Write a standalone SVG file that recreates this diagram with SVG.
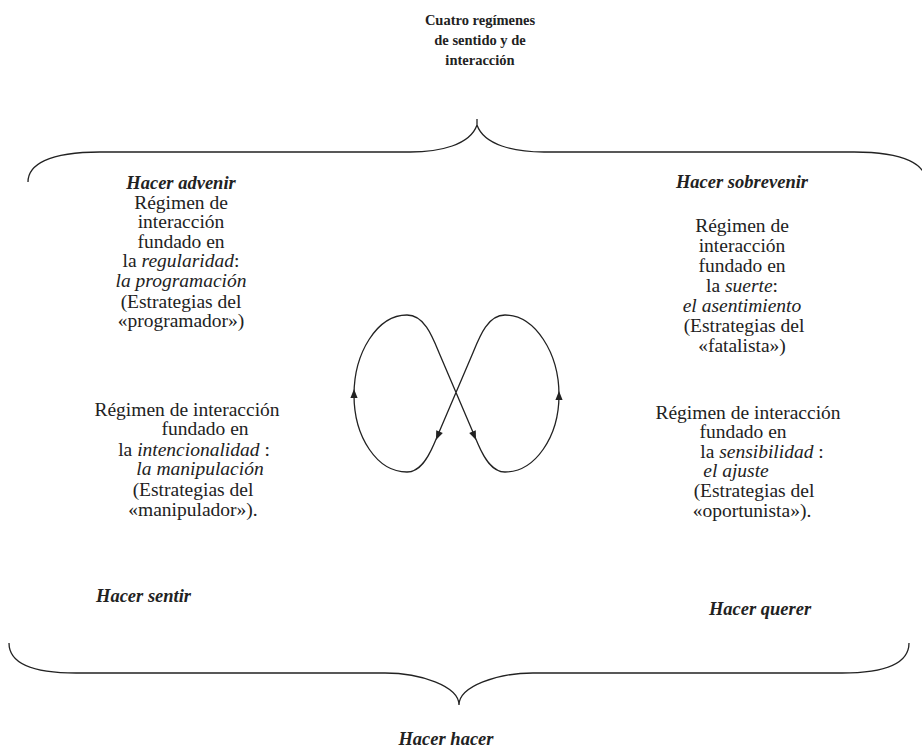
<svg xmlns="http://www.w3.org/2000/svg" width="922" height="748" viewBox="0 0 922 748">
<style>
.t{font-family:"Liberation Serif","Times New Roman",serif;font-size:19.5px;fill:#222;text-anchor:middle}
.bi{font-family:"Liberation Serif","Times New Roman",serif;font-size:18.5px;font-weight:bold;font-style:italic;fill:#222}
.ti{font-family:"Liberation Serif","Times New Roman",serif;font-size:14.5px;font-weight:bold;fill:#222;text-anchor:middle}
.i{font-style:italic}
.ln{fill:none;stroke:#222;stroke-width:1.3}
.ah{fill:#222}
</style>
<defs>
<path id="ah" d="M0,0 L-9,-3.6 L-9,3.6 Z"/>
</defs>
<rect width="922" height="748" fill="#fff"/>
<g id="title">
<text class="ti" x="480" y="25">Cuatro regímenes</text>
<text class="ti" x="480" y="45">de sentido y de</text>
<text class="ti" x="480" y="65">interacción</text>
</g>
<g id="braces">
<path class="ln" d="M28,182 C28,165 48,152 100,152 L410,152 C440,152 470,145 477,125 L477,119 M477,125 C484,145 514,152 544,152 L854,152 C906,152 926,165 926,182"/>
<path class="ln" d="M9,643 C9,662 30,673 76,673 L385,673 C420,673 459,686 459,705 C459,686 498,673 533,673 L842,673 C888,673 909,662 909,643"/>
</g>
<g id="node-advenir">
<text class="bi" x="181" y="189" text-anchor="middle">Hacer advenir</text>
<text class="t" x="181" y="208.5">Régimen de</text>
<text class="t" x="181" y="228">interacción</text>
<text class="t" x="181" y="247.5">fundado en</text>
<text class="t" x="181" y="267">la <tspan class="i">regularidad</tspan>:</text>
<text class="t i" x="181" y="286.5">la programación</text>
<text class="t" x="181" y="307.5">(Estrategias del</text>
<text class="t" x="181" y="327">«programador»)</text>
</g>
<g id="node-sentir">
<text class="t" x="187" y="415.5">Régimen de interacción</text>
<text class="t" x="205" y="435">fundado en</text>
<text class="t" x="194" y="455.5">la <tspan class="i">intencionalidad</tspan> :</text>
<text class="t i" x="200" y="475">la manipulación</text>
<text class="t" x="193" y="496">(Estrategias del</text>
<text class="t" x="193" y="515.5">«manipulador»).</text>
<text class="bi" x="96" y="602">Hacer sentir</text>
</g>
<g id="node-sobrevenir">
<text class="bi" x="742" y="188" text-anchor="middle">Hacer sobrevenir</text>
<text class="t" x="742" y="232">Régimen de</text>
<text class="t" x="742" y="252">interacción</text>
<text class="t" x="742" y="271.5">fundado en</text>
<text class="t" x="742" y="292">la <tspan class="i">suerte</tspan>:</text>
<text class="t i" x="742" y="311.5">el asentimiento</text>
<text class="t" x="744" y="332">(Estrategias del</text>
<text class="t" x="742" y="351.5">«fatalista»)</text>
</g>
<g id="node-querer">
<text class="t" x="748" y="419">Régimen de interacción</text>
<text class="t" x="743" y="438">fundado en</text>
<text class="t" x="762" y="457.5">la <tspan class="i">sensibilidad</tspan> :</text>
<text class="t i" x="736" y="476.5">el ajuste</text>
<text class="t" x="754" y="497">(Estrategias del</text>
<text class="t" x="752" y="516.5">«oportunista»).</text>
<text class="bi" x="760" y="615" text-anchor="middle">Hacer querer</text>
</g>
<g id="node-hacer">
<text class="bi" x="446" y="745" text-anchor="middle">Hacer hacer</text>
</g>
<g id="connectors">
<path class="ln" d="M407,315 C425,315 433,338 440,355 L478,444 C484,458 492,472 505,472 C535,472 559,437 559,395 C559,353 535,315 505,315 C487,315 479,338 472,355 L434,444 C428,458 420,472 407,472 C377,472 354,437 354,395 C354,353 377,315 407,315 Z"/>
<use href="#ah" class="ah" transform="translate(354,389) rotate(-90)"/>
<use href="#ah" class="ah" transform="translate(559,391) rotate(-90)"/>
<use href="#ah" class="ah" transform="translate(476,440) rotate(67)"/>
<use href="#ah" class="ah" transform="translate(436,440) rotate(113)"/>
</g>
</svg>
